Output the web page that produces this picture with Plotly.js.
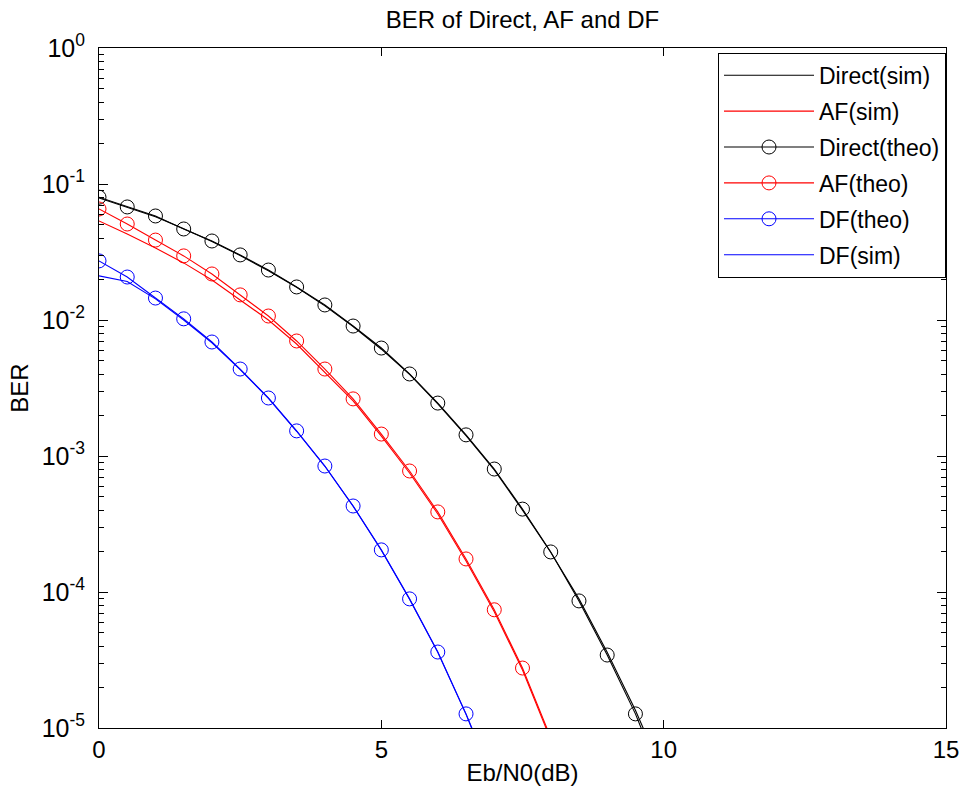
<!DOCTYPE html>
<html>
<head>
<meta charset="utf-8">
<script src="https://cdn.plot.ly/plotly-3.0.1.min.js"></script>
<style>html,body{margin:0;padding:0;background:#fff;}#chart{width:965px;height:801px;}</style>
</head>
<body>
<div id="chart"></div>
<script>
// Eb/N0 grid (dB)
const ebn0 = [0,0.5,1,1.5,2,2.5,3,3.5,4,4.5,5,5.5,6,6.5,7,7.5,8,8.5,9,9.5,10];

// Direct link
const directSim  = [0.0790,0.0672,0.0575,0.0468,0.0378,0.0298,0.0230,0.0174,0.0127,0.00895,0.00610,0.00398,0.00242,0.00141,0.000790,0.000400,0.000196,0.000089,0.0000360,0.0000135,0.0000045];
const directTheo = [0.0800,0.0678,0.0582,0.0467,0.0381,0.0301,0.0233,0.0175,0.0129,0.00903,0.00622,0.00401,0.00245,0.00143,0.000802,0.000407,0.000197,0.0000860,0.0000344,0.0000127,0.0000039];

// Amplify-and-forward
const afX    = [0,0.5,1,1.5,2,2.5,3,3.5,4,4.5,5,5.5,6,6.5,7,7.5,8];
const afSim  = [0.0535,0.0429,0.0338,0.0263,0.0197,0.0141,0.0100,0.00666,0.00414,0.00254,0.00140,0.000750,0.000375,0.000169,0.0000715,0.0000267,0.0000082];
const afTheo = [0.0655,0.0508,0.0387,0.0296,0.0218,0.0153,0.0107,0.00701,0.00436,0.00263,0.00145,0.000776,0.000388,0.000175,0.0000740,0.0000276,0.0000085];

// Decode-and-forward
const dfX    = [0,0.5,1,1.5,2,2.5,3,3.5,4,4.5,5,5.5,6,6.5,7];
const dfTheo = [0.0272,0.0207,0.0145,0.0102,0.00689,0.00436,0.00267,0.00153,0.000844,0.000429,0.000204,0.0000890,0.0000362,0.0000127,0.0000040];
const dfSim  = [0.0211,0.0192,0.0143,0.0100,0.00680,0.00432,0.00265,0.00152,0.000840,0.000428,0.000203,0.0000885,0.0000360,0.0000126,0.0000039];

const yTickVals = [1e-5,1e-4,1e-3,1e-2,1e-1,1];
const yTickText = ['10<sup>-5</sup>','10<sup>-4</sup>','10<sup>-3</sup>','10<sup>-2</sup>','10<sup>-1</sup>','10<sup>0</sup>'];
const yMinorVals = [2e-5,3e-5,4e-5,5e-5,6e-5,7e-5,8e-5,9e-5,
                    2e-4,3e-4,4e-4,5e-4,6e-4,7e-4,8e-4,9e-4,
                    2e-3,3e-3,4e-3,5e-3,6e-3,7e-3,8e-3,9e-3,
                    2e-2,3e-2,4e-2,5e-2,6e-2,7e-2,8e-2,9e-2,
                    0.2,0.3,0.4,0.5,0.6,0.7,0.8,0.9];
const xTickVals = [0,5,10,15];

const lineW = 1.1;
function lineTrace(x, y, name, color) {
  return {x:x, y:y, name:name, type:'scatter', mode:'lines',
          line:{color:color, width:lineW}, legendgroup:name};
}
function markTrace(x, y, name, color) {
  return {x:x, y:y, name:name, type:'scatter', mode:'lines+markers',
          line:{color:color, width:lineW},
          marker:{symbol:'circle-open', size:14, color:color, line:{width:1, color:color}},
          legendgroup:name};
}

const traces = [
  lineTrace(ebn0, directSim, 'Direct(sim)', '#000000'),
  lineTrace(afX, afSim, 'AF(sim)', '#ff0000'),
  markTrace(ebn0, directTheo, 'Direct(theo)', '#000000'),
  markTrace(afX, afTheo, 'AF(theo)', '#ff0000'),
  markTrace(dfX, dfTheo, 'DF(theo)', '#0000ff'),
  lineTrace(dfX, dfSim, 'DF(sim)', '#0000ff')
];

const font = 'Liberation Sans, Arial, Helvetica, sans-serif';
const layout = {
  width:965, height:801,
  margin:{l:99, r:19, t:48, b:73},
  paper_bgcolor:'#ffffff', plot_bgcolor:'#ffffff',
  font:{family:font, size:24, color:'#000'},
  title:{text:'BER of Direct, AF and DF', font:{family:font, size:24, color:'#000'},
         x:0.5415, xanchor:'center', y:0.975, yanchor:'middle'},
  xaxis:{range:[0,15], tickvals:xTickVals, ticktext:xTickVals.map(String),
         ticks:'inside', ticklen:8, tickcolor:'#000', showline:true, linecolor:'#000', linewidth:1,
         mirror:'ticks', showgrid:false, zeroline:false,
         tickfont:{family:font, size:24},
         title:{text:'Eb/N0(dB)', font:{family:font, size:24}, standoff:2}},
  yaxis:{type:'log', range:[-5,0], tickvals:yTickVals, ticktext:yTickText,
         ticks:'inside', ticklen:9, tickcolor:'#000', showline:true, linecolor:'#000', linewidth:1,
         mirror:'ticks', showgrid:false, zeroline:false, ticklabelstandoff:8,
         minor:{ticks:'inside', ticklen:5, tickcolor:'#000', tickmode:'array', tickvals:yMinorVals, showgrid:false},
         tickfont:{family:font, size:25},
         title:{text:'BER', font:{family:font, size:24}, standoff:6}},
  showlegend:true,
  legend:{x:1, xanchor:'right', y:0.993, yanchor:'top', bgcolor:'#ffffff',
          bordercolor:'#000', borderwidth:1, font:{family:font, size:23},
          traceorder:'grouped', tracegroupgap:3, itemwidth:90}
};

Plotly.newPlot('chart', traces, layout, {displayModeBar:false, staticPlot:true});
</script>
</body>
</html>
